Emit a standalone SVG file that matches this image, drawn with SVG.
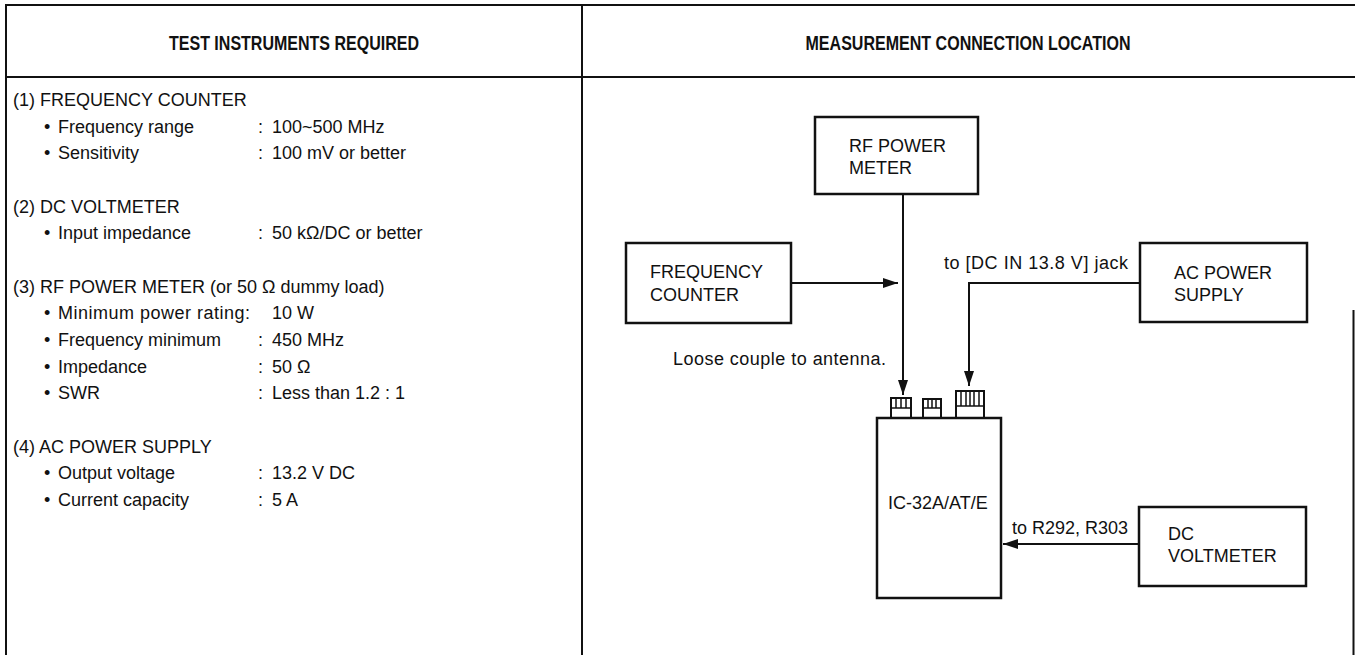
<svg xmlns="http://www.w3.org/2000/svg" width="1355" height="655" viewBox="0 0 1355 655">
  <defs>
    <style>
      .t { font-family: "Liberation Sans", Arial, Helvetica, sans-serif; font-size: 18px; fill: #111; }
      .h { font-family: "Liberation Sans", Arial, Helvetica, sans-serif; font-size: 21px; font-weight: bold; fill: #111; }
      .tbl { stroke: #111; stroke-width: 2; fill: none; }
      .box { stroke: #111; stroke-width: 2.5; fill: #fff; }
      .wire { stroke: #111; stroke-width: 2; fill: none; }
      .jack { stroke: #111; stroke-width: 2; fill: #fff; }
      .tick { stroke: #111; stroke-width: 1.5; }
    </style>
    <marker id="ah" viewBox="0 0 15 10" refX="15" refY="5" markerWidth="15" markerHeight="10" orient="auto" markerUnits="userSpaceOnUse">
      <path d="M0,0 L15,5 L0,10 z" fill="#111"/>
    </marker>
  </defs>
  <rect width="1355" height="655" fill="#fff"/>

  <g id="table">
    <line class="tbl" x1="5" y1="5" x2="1355" y2="5" stroke-width="3"/>
    <line class="tbl" x1="5" y1="77" x2="1355" y2="77" stroke-width="2.5"/>
    <line class="tbl" x1="6" y1="4" x2="6" y2="655" stroke-width="2.5"/>
    <line class="tbl" x1="582" y1="4" x2="582" y2="655"/>
    <line class="tbl" x1="1353.5" y1="310" x2="1353.5" y2="655" stroke-width="1.5"/>
    <text class="h" x="294" y="50" text-anchor="middle" textLength="250" lengthAdjust="spacingAndGlyphs">TEST INSTRUMENTS REQUIRED</text>
    <text class="h" x="968" y="50" text-anchor="middle" textLength="325" lengthAdjust="spacingAndGlyphs">MEASUREMENT CONNECTION LOCATION</text>
  </g>

  <g id="instruments">
    <text class="t" x="13" y="106">(1) FREQUENCY COUNTER</text>
    <text class="t" x="44" y="133">•</text><text class="t" x="58" y="133">Frequency range</text><text class="t" x="258" y="133">:</text><text class="t" x="272" y="133">100~500 MHz</text>
    <text class="t" x="44" y="159">•</text><text class="t" x="58" y="159">Sensitivity</text><text class="t" x="258" y="159">:</text><text class="t" x="272" y="159">100 mV or better</text>

    <text class="t" x="13" y="213">(2) DC VOLTMETER</text>
    <text class="t" x="44" y="239">•</text><text class="t" x="58" y="239">Input impedance</text><text class="t" x="258" y="239">:</text><text class="t" x="272" y="239">50 kΩ/DC or better</text>

    <text class="t" x="13" y="293">(3) RF POWER METER (or 50 Ω dummy load)</text>
    <text class="t" x="44" y="319">•</text><text class="t" x="58" y="319" textLength="192" lengthAdjust="spacing">Minimum power rating:</text><text class="t" x="272" y="319">10 W</text>
    <text class="t" x="44" y="346">•</text><text class="t" x="58" y="346">Frequency minimum</text><text class="t" x="258" y="346">:</text><text class="t" x="272" y="346">450 MHz</text>
    <text class="t" x="44" y="373">•</text><text class="t" x="58" y="373">Impedance</text><text class="t" x="258" y="373">:</text><text class="t" x="272" y="373">50 Ω</text>
    <text class="t" x="44" y="399">•</text><text class="t" x="58" y="399">SWR</text><text class="t" x="258" y="399">:</text><text class="t" x="272" y="399">Less than 1.2 : 1</text>

    <text class="t" x="13" y="453">(4) AC POWER SUPPLY</text>
    <text class="t" x="44" y="479">•</text><text class="t" x="58" y="479">Output voltage</text><text class="t" x="258" y="479">:</text><text class="t" x="272" y="479">13.2 V DC</text>
    <text class="t" x="44" y="506">•</text><text class="t" x="58" y="506">Current capacity</text><text class="t" x="258" y="506">:</text><text class="t" x="272" y="506">5 A</text>
  </g>

  <g id="connectors">
    <line class="wire" x1="903" y1="195" x2="903" y2="395" marker-end="url(#ah)"/>
    <line class="wire" x1="791" y1="283" x2="898" y2="283" marker-end="url(#ah)"/>
    <polyline class="wire" points="1140,283 969,283 969,386" marker-end="url(#ah)"/>
    <line class="wire" x1="1139" y1="544" x2="1003" y2="544" marker-end="url(#ah)"/>
    <text class="t" x="673" y="365" textLength="213" lengthAdjust="spacing">Loose couple to antenna.</text>
    <text class="t" x="944" y="269" textLength="184" lengthAdjust="spacing">to [DC IN 13.8 V] jack</text>
    <text class="t" x="1012" y="534">to R292, R303</text>
  </g>

  <g id="rf-power-meter">
    <rect class="box" x="815" y="117" width="163" height="77"/>
    <text class="t" x="849" y="152">RF POWER</text>
    <text class="t" x="849" y="174">METER</text>
  </g>

  <g id="frequency-counter">
    <rect class="box" x="626" y="243" width="165" height="80"/>
    <text class="t" x="650" y="278">FREQUENCY</text>
    <text class="t" x="650" y="301">COUNTER</text>
  </g>

  <g id="ac-power-supply">
    <rect class="box" x="1140" y="243" width="167" height="79"/>
    <text class="t" x="1174" y="279">AC POWER</text>
    <text class="t" x="1174" y="301">SUPPLY</text>
  </g>

  <g id="dc-voltmeter">
    <rect class="box" x="1139" y="507" width="167" height="79"/>
    <text class="t" x="1168" y="540">DC</text>
    <text class="t" x="1168" y="562">VOLTMETER</text>
  </g>

  <g id="ic-32a">
    <rect class="jack" x="891" y="398" width="20" height="20"/>
    <line class="tick" x1="891" y1="408" x2="911" y2="408"/>
    <line class="tick" x1="896" y1="399" x2="896" y2="408"/>
    <line class="tick" x1="901" y1="399" x2="901" y2="408"/>
    <line class="tick" x1="906" y1="399" x2="906" y2="408"/>
    <rect class="jack" x="923" y="399" width="18" height="19"/>
    <line class="tick" x1="923" y1="408" x2="941" y2="408"/>
    <line class="tick" x1="928" y1="400" x2="928" y2="408"/>
    <line class="tick" x1="932" y1="400" x2="932" y2="408"/>
    <line class="tick" x1="936" y1="400" x2="936" y2="408"/>
    <rect class="jack" x="956" y="391" width="28" height="27"/>
    <line class="tick" x1="956" y1="406" x2="984" y2="406"/>
    <line class="tick" x1="961" y1="392" x2="961" y2="406"/>
    <line class="tick" x1="966" y1="392" x2="966" y2="406"/>
    <line class="tick" x1="970" y1="392" x2="970" y2="406"/>
    <line class="tick" x1="974" y1="392" x2="974" y2="406"/>
    <line class="tick" x1="979" y1="392" x2="979" y2="406"/>
    <rect class="box" x="877" y="418" width="124" height="180"/>
    <text class="t" x="888" y="509">IC-32A/AT/E</text>
  </g>
</svg>
